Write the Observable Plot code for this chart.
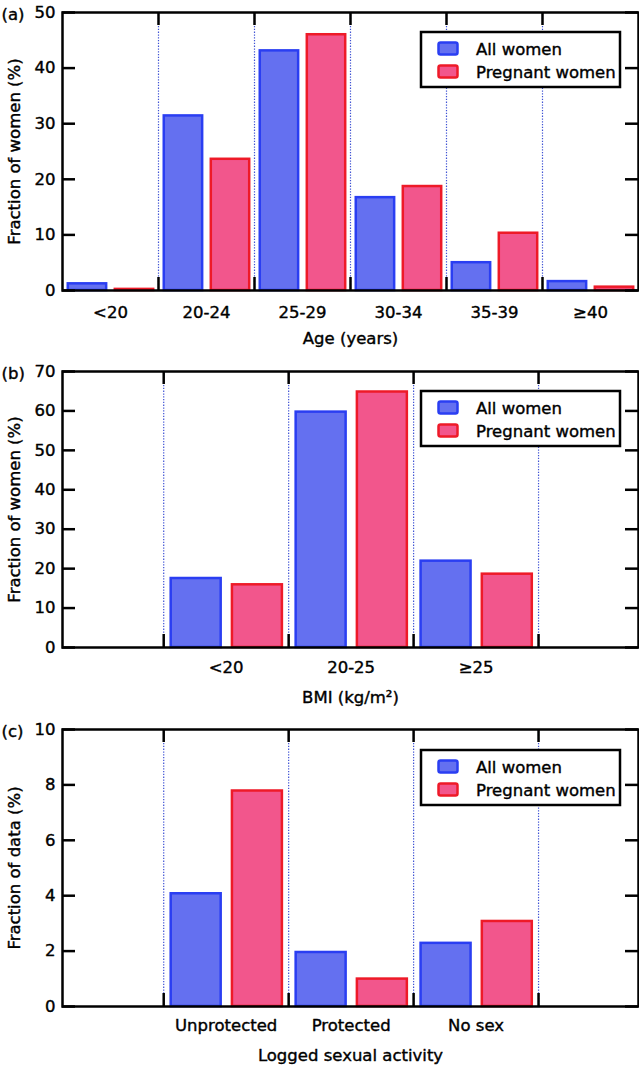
<!DOCTYPE html>
<html><head><meta charset="utf-8">
<script src="https://cdn.jsdelivr.net/npm/d3@7"></script>
<script src="https://cdn.jsdelivr.net/npm/@observablehq/plot@0.6"></script>
<style>
body{margin:0;background:#fff;}
#chart svg{display:block;}
</style>
</head><body><div id="chart"></div>
<script>
// ---- data ----
const seriesNames = ["All women", "Pregnant women"];

const ageCategories = ["<20", "20-24", "25-29", "30-34", "35-39", "≥40"];
const ageAll        = [1.2, 31.4, 43.1, 16.7, 5.0, 1.6];
const agePregnant   = [0.2, 23.6, 46.0, 18.7, 10.3, 0.6];
const ageTicks      = [0, 10, 20, 30, 40, 50];

const bmiCategories = ["<20", "20-25", "≥25"];
const bmiAll        = [17.5, 59.7, 21.9];
const bmiPregnant   = [15.9, 64.8, 18.6];
const bmiTicks      = [0, 10, 20, 30, 40, 50, 60, 70];

const sexCategories = ["Unprotected", "Protected", "No sex"];
const sexAll        = [4.07, 1.95, 2.28];
const sexPregnant   = [7.78, 0.99, 3.07];
const sexTicks      = [0, 2, 4, 6, 8, 10];

// ---- styles ----
const W = 639, ML = 62, MR = 1;
const FONT = "'DejaVu Sans', sans-serif";
const FS = 16.5;
const fills = ["#6470f0", "#f2568c"];
const strokes = ["#2a3ef2", "#ee1a28"];
const LW = 2.5;
const TXT_STROKE = 0.4;

function panel(o) {
  const rows = o.categories.map((c, i) => ({cat: c, pos: i + 1, all: o.all[i], preg: o.pregnant[i]}));
  const n = o.categories.length;
  const dividers = [];
  for (let k = 0; k <= n; k++) {
    const b = k + 0.5;
    if (b > o.xDomain[0] && b < o.xDomain[1]) dividers.push(b);
  }
  const frameW = W - ML - MR;
  const frameH = o.height - o.marginTop - o.marginBottom;
  const T = {fontSize: FS, fill: "black", stroke: "black", strokeWidth: TXT_STROKE};
  const plot = Plot.plot({
    width: W, height: o.height,
    marginLeft: ML, marginRight: MR, marginTop: o.marginTop, marginBottom: o.marginBottom,
    x: {type: "linear", domain: o.xDomain, axis: null},
    y: {domain: [o.yTicks[0], o.yTicks[o.yTicks.length - 1]], axis: null},
    style: {fontFamily: FONT, fontSize: FS + "px", color: "black", background: "white", overflow: "visible"},
    marks: [
      Plot.ruleX(dividers, {x: d => d, stroke: "#3f52d4", strokeWidth: 1.2, strokeDasharray: "1.3,1.5"}),
      Plot.rectY(rows, {x1: d => d.pos - 0.44, x2: d => d.pos - 0.04, y1: 0, y2: "all",
        fill: fills[0], stroke: strokes[0], strokeWidth: LW}),
      Plot.rectY(rows, {x1: d => d.pos + 0.05, x2: d => d.pos + 0.45, y1: 0, y2: "preg",
        fill: fills[1], stroke: strokes[1], strokeWidth: LW}),
      Plot.tickY(o.yTicks, {y: d => d, insetRight: frameW - 13, stroke: "black", strokeWidth: LW}),
      Plot.tickY(o.yTicks, {y: d => d, insetLeft: frameW - 13, stroke: "black", strokeWidth: LW}),
      Plot.tickX(dividers, {x: d => d, insetBottom: frameH - 13, stroke: "black", strokeWidth: LW}),
      Plot.tickX(dividers, {x: d => d, insetTop: frameH - 13, stroke: "black", strokeWidth: LW}),
      Plot.frame({stroke: "black", strokeWidth: LW}),
      Plot.text(o.yTicks, {...T, y: d => d, text: d => String(d), frameAnchor: "left", dx: -7, textAnchor: "end", lineAnchor: "middle"}),
      Plot.text(o.categories, {...T, x: (d, i) => i + 1, text: d => d, frameAnchor: "bottom", dy: o.tickDy, textAnchor: "middle", lineAnchor: "middle"}),
      Plot.text([o.xTitle], {...T, text: d => d, frameAnchor: "bottom", dy: o.titleDy, textAnchor: "middle", lineAnchor: "middle"}),
      Plot.text([o.yTitle], {...T, text: d => d, frameAnchor: "left", dx: -48, rotate: -90, textAnchor: "middle", lineAnchor: "middle"}),
      Plot.text([o.letter], {...T, text: d => d, frameAnchor: "top-left", dx: -ML + 1, dy: 2, textAnchor: "start", lineAnchor: "middle"})
    ]
  });
  // legend inside frame (top-right)
  const svg = d3.select(plot);
  const bw = 199, bh = 55;
  const g = svg.append("g").attr("transform", `translate(${ML + frameW - 18 - bw},${o.marginTop + o.legendDy})`)
    .attr("font-family", FONT).attr("font-size", FS).attr("text-anchor", "start");
  g.append("rect").attr("width", bw).attr("height", bh).attr("fill", "white").attr("stroke", "black").attr("stroke-width", LW);
  seriesNames.forEach((s, i) => {
    g.append("rect").attr("x", 17.5).attr("y", 10.5 + i * 23).attr("width", 19).attr("height", 12).attr("rx", 2)
      .attr("fill", fills[i]).attr("stroke", strokes[i]).attr("stroke-width", LW);
    g.append("text").attr("x", 55).attr("y", 23 + i * 22.5).attr("fill", "black")
      .attr("stroke", "black").attr("stroke-width", TXT_STROKE)
      .attr("text-anchor", "start").attr("font-size", FS).text(s);
  });
  return plot;
}

const chart = document.getElementById("chart");
chart.append(panel({letter: "(a)", categories: ageCategories, all: ageAll, pregnant: agePregnant,
  yTicks: ageTicks, xDomain: [0.5, 6.5], yTitle: "Fraction of women (%)", xTitle: "Age (years)",
  height: 352, marginTop: 12, marginBottom: 62, tickDy: 22, titleDy: 48, legendDy: 20}));
chart.append(panel({letter: "(b)", categories: bmiCategories, all: bmiAll, pregnant: bmiPregnant,
  yTicks: bmiTicks, xDomain: [-0.31, 4.3], yTitle: "Fraction of women (%)", xTitle: "BMI (kg/m²)",
  height: 354, marginTop: 19, marginBottom: 59, tickDy: 20, titleDy: 50, legendDy: 20}));
chart.append(panel({letter: "(c)", categories: sexCategories, all: sexAll, pregnant: sexPregnant,
  yTicks: sexTicks, xDomain: [-0.31, 4.3], yTitle: "Fraction of data (%)", xTitle: "Logged sexual activity",
  height: 359, marginTop: 23, marginBottom: 59, tickDy: 19, titleDy: 49, legendDy: 21}));
</script>
</body></html>
